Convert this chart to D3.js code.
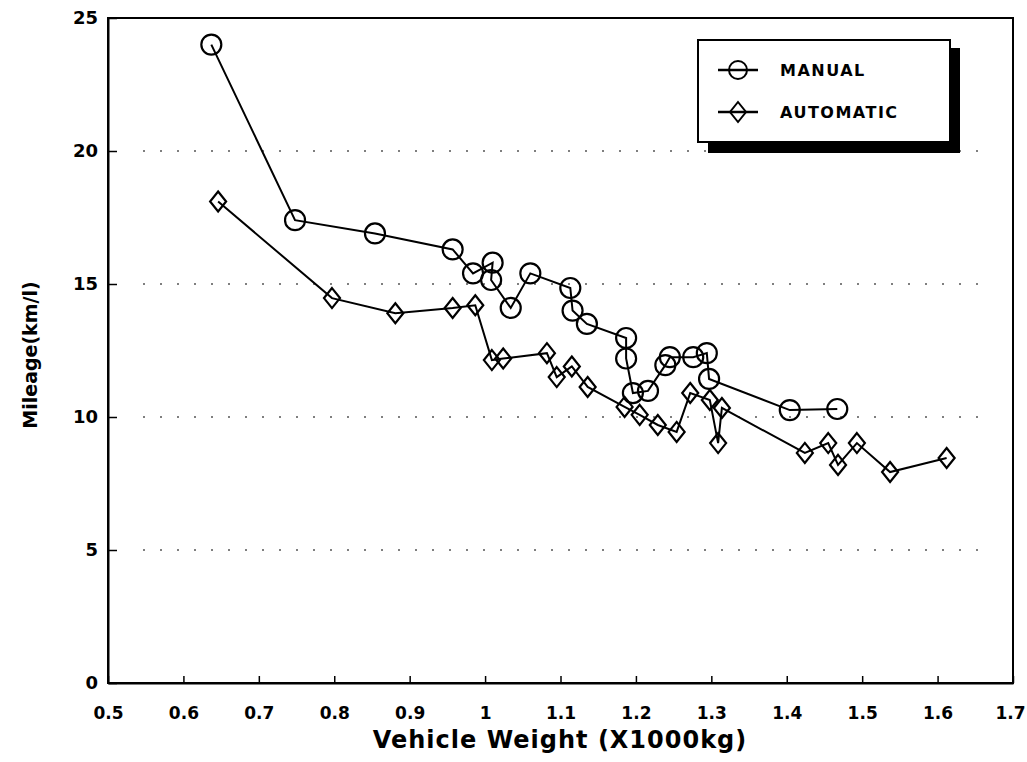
<!DOCTYPE html>
<html>
<head>
<meta charset="utf-8">
<script src="https://cdn.jsdelivr.net/npm/d3@7"></script>
<style>
  body { margin: 0; background: #fff; }
  text { font-family: "DejaVu Sans", "Liberation Sans", Arial, sans-serif; font-weight: bold; fill: #000; }
</style>
</head>
<body>
<div id="chart"></div>
<script>
// data: [weight (x1000kg), mileage km/l]
var manual = [
  [0.637, 24.0], [0.748, 17.4], [0.854, 16.9], [0.957, 16.3], [0.984, 15.4],
  [1.010, 15.8], [1.008, 15.15], [1.034, 14.1], [1.060, 15.4], [1.113, 14.85],
  [1.116, 14.0], [1.135, 13.5], [1.187, 12.97], [1.187, 12.2], [1.196, 10.9],
  [1.216, 10.98], [1.239, 11.95], [1.245, 12.25], [1.276, 12.25], [1.294, 12.4],
  [1.297, 11.43], [1.404, 10.26], [1.467, 10.3]
];
var automatic = [
  [0.646, 18.1], [0.797, 14.47], [0.881, 13.9], [0.957, 14.1], [0.987, 14.2],
  [1.009, 12.14], [1.024, 12.2], [1.082, 12.4], [1.095, 11.5], [1.115, 11.9],
  [1.136, 11.13], [1.185, 10.38], [1.205, 10.08], [1.229, 9.7], [1.254, 9.44],
  [1.272, 10.9], [1.298, 10.64], [1.309, 9.02], [1.314, 10.34], [1.424, 8.65],
  [1.455, 9.02], [1.468, 8.2], [1.493, 9.02], [1.537, 7.93], [1.612, 8.46]
];
var xTicks = [0.5, 0.6, 0.7, 0.8, 0.9, 1, 1.1, 1.2, 1.3, 1.4, 1.5, 1.6, 1.7];
var xTickLabels = ["0.5", "0.6", "0.7", "0.8", "0.9", "1", "1.1", "1.2", "1.3", "1.4", "1.5", "1.6", "1.7"];
var yTicks = [0, 5, 10, 15, 20, 25];
var gridValues = [5, 10, 15, 20];
var seriesNames = ["MANUAL", "AUTOMATIC"];

var width = 1027, height = 762;
var margin = { top: 18, right: 14, bottom: 79, left: 108 };

var svg = d3.select("#chart")
  .append("svg")
  .attr("width", width)
  .attr("height", height);

var x = d3.scaleLinear()
  .domain([0.5, 1.7])
  .range([margin.left, width - margin.right]);
var y = d3.scaleLinear()
  .domain([0, 25])
  .range([height - margin.bottom, margin.top]);

// dotted grid lines
svg.append("g")
  .selectAll("line")
  .data(gridValues)
  .enter()
  .append("line")
  .attr("x1", x(0.5) + 35)
  .attr("x2", x(1.7) - 25)
  .attr("y1", function (d) { return y(d); })
  .attr("y2", function (d) { return y(d); })
  .attr("stroke", "#555")
  .attr("stroke-width", 1.5)
  .attr("stroke-dasharray", "2,15");

// frame
svg.append("rect")
  .attr("x", x(0.5))
  .attr("y", y(25))
  .attr("width", x(1.7) - x(0.5))
  .attr("height", y(0) - y(25))
  .attr("fill", "none")
  .attr("stroke", "#000")
  .attr("stroke-width", 2);

// axes with inward ticks
var xAxis = svg.append("g")
  .attr("transform", "translate(0," + y(0) + ")")
  .call(d3.axisBottom(x)
    .tickValues(xTicks)
    .tickFormat(function (d, i) { return xTickLabels[i]; })
    .tickSizeInner(-7)
    .tickSizeOuter(0)
    .tickPadding(24));
xAxis.attr("font-family", null);
xAxis.select(".domain").attr("stroke-width", 2);
xAxis.selectAll(".tick line").attr("stroke-width", 1.5);
xAxis.selectAll("text")
  .style("font-size", "17px")
  .attr("dx", function (d, i) { return i === xTicks.length - 1 ? -3 : 0; });

var yAxis = svg.append("g")
  .attr("transform", "translate(" + x(0.5) + ",0)")
  .call(d3.axisLeft(y)
    .tickValues(yTicks)
    .tickSizeInner(-9)
    .tickSizeOuter(0)
    .tickPadding(10));
yAxis.attr("font-family", null);
yAxis.select(".domain").attr("stroke-width", 2);
yAxis.selectAll(".tick line").attr("stroke-width", 1.5);
yAxis.selectAll("text")
  .style("font-size", "18px");

// axis titles
svg.append("text")
  .attr("x", 560)
  .attr("y", 748)
  .attr("text-anchor", "middle")
  .style("font-size", "24px")
  .style("letter-spacing", "1px")
  .text("Vehicle Weight (X1000kg)");

svg.append("text")
  .attr("transform", "translate(37," + 355 + ") rotate(-90)")
  .attr("text-anchor", "middle")
  .style("font-size", "19px")
  .text("Mileage(km/l)");

var line = d3.line()
  .x(function (d) { return x(d[0]); })
  .y(function (d) { return y(d[1]); });

function diamond(cx, cy) {
  return "M" + cx + "," + (cy - 10) + "L" + (cx + 8) + "," + cy +
    "L" + cx + "," + (cy + 10) + "L" + (cx - 8) + "," + cy + "Z";
}

// manual series
svg.append("path")
  .datum(manual)
  .attr("d", line)
  .attr("fill", "none")
  .attr("stroke", "#000")
  .attr("stroke-width", 2);
svg.append("g")
  .selectAll("circle")
  .data(manual)
  .enter()
  .append("circle")
  .attr("cx", function (d) { return x(d[0]); })
  .attr("cy", function (d) { return y(d[1]); })
  .attr("r", 10)
  .attr("fill", "none")
  .attr("stroke", "#000")
  .attr("stroke-width", 2.2);

// automatic series
svg.append("path")
  .datum(automatic)
  .attr("d", line)
  .attr("fill", "none")
  .attr("stroke", "#000")
  .attr("stroke-width", 2);
svg.append("g")
  .selectAll("path")
  .data(automatic)
  .enter()
  .append("path")
  .attr("d", function (d) { return diamond(x(d[0]), y(d[1])); })
  .attr("fill", "none")
  .attr("stroke", "#000")
  .attr("stroke-width", 2.2);

// legend with drop shadow
var lg = svg.append("g").attr("transform", "translate(698,40)");
lg.append("rect")
  .attr("x", 10).attr("y", 8)
  .attr("width", 252).attr("height", 105)
  .attr("fill", "#000");
lg.append("rect")
  .attr("x", 0).attr("y", 0)
  .attr("width", 252).attr("height", 102)
  .attr("fill", "#fff")
  .attr("stroke", "#000")
  .attr("stroke-width", 2);

var legRows = lg.selectAll(".row")
  .data(seriesNames)
  .enter()
  .append("g")
  .attr("class", "row")
  .attr("transform", function (d, i) { return "translate(0," + (30 + i * 42) + ")"; });
legRows.append("line")
  .attr("x1", 20).attr("x2", 60)
  .attr("stroke", "#000")
  .attr("stroke-width", 2.5);
legRows.filter(function (d, i) { return i === 0; })
  .append("circle")
  .attr("cx", 40).attr("cy", 0).attr("r", 9)
  .attr("fill", "none").attr("stroke", "#000").attr("stroke-width", 2);
legRows.filter(function (d, i) { return i === 1; })
  .append("path")
  .attr("d", diamond(40, 0))
  .attr("fill", "none").attr("stroke", "#000").attr("stroke-width", 2);
legRows.append("text")
  .attr("x", 82)
  .attr("y", 6)
  .style("font-size", "16px")
  .style("letter-spacing", "1.5px")
  .text(function (d) { return d; });
</script>
</body>
</html>
